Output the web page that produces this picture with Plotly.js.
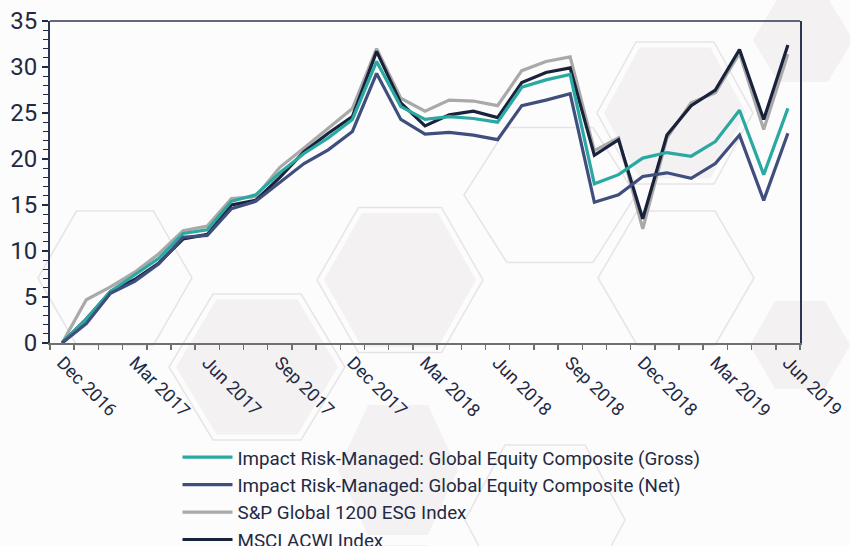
<!DOCTYPE html>
<html>
<head>
<meta charset="utf-8">
<script src="https://cdn.plot.ly/plotly-3.0.1.min.js"></script>
<style>
  html, body { margin: 0; padding: 0; background: #fdfcfc; }
  #chart { width: 850px; height: 546px; }
</style>
</head>
<body>
<div id="chart"></div>
<script>
// ---- Data (cumulative return, %) ----
const months = ["Dec 2016","Jan 2017","Feb 2017","Mar 2017","Apr 2017","May 2017","Jun 2017","Jul 2017","Aug 2017","Sep 2017","Oct 2017","Nov 2017",
                "Dec 2017","Jan 2018","Feb 2018","Mar 2018","Apr 2018","May 2018","Jun 2018","Jul 2018","Aug 2018","Sep 2018","Oct 2018","Nov 2018",
                "Dec 2018","Jan 2019","Feb 2019","Mar 2019","Apr 2019","May 2019","Jun 2019"];
const tickLabels = ["Dec 2016","Mar 2017","Jun 2017","Sep 2017","Dec 2017","Mar 2018","Jun 2018","Sep 2018","Dec 2018","Mar 2019","Jun 2019"];

const gross = [0, 2.6, 5.6, 7.4, 9.2, 11.9, 12.3, 15.4, 16.1, 18.5, 20.6, 22.3, 24.3, 30.6, 25.7, 24.3, 24.6, 24.4, 24.0, 27.8, 28.6, 29.2, 17.3, 18.3, 20.1, 20.7, 20.3, 21.9, 25.3, 18.3, 25.5];
const net   = [0, 2.1, 5.4, 6.7, 8.6, 11.5, 11.7, 14.6, 15.4, 17.4, 19.5, 21.0, 23.0, 29.3, 24.3, 22.7, 22.9, 22.6, 22.1, 25.8, 26.4, 27.1, 15.3, 16.1, 18.1, 18.5, 17.9, 19.5, 22.6, 15.5, 22.8];
const spEsg = [0, 4.7, 6.1, 7.7, 9.7, 12.2, 12.7, 15.7, 15.9, 19.1, 21.2, 23.3, 25.5, 32.0, 26.6, 25.2, 26.4, 26.3, 25.8, 29.6, 30.6, 31.1, 20.9, 22.3, 12.4, 22.3, 26.1, 27.2, 31.5, 23.2, 31.4];
const msci  = [0, 2.6, 5.6, 6.9, 8.7, 11.3, 11.8, 15.0, 15.5, 18.0, 20.8, 22.8, 24.6, 31.7, 26.1, 23.6, 24.8, 25.2, 24.5, 28.3, 29.4, 29.9, 20.4, 22.1, 13.5, 22.6, 25.8, 27.5, 31.9, 24.3, 32.4];

const names = ["Impact Risk-Managed: Global Equity Composite (Gross)",
               "Impact Risk-Managed: Global Equity Composite (Net)",
               "S&P Global 1200 ESG Index",
               "MSCI ACWI Index"];

// ---- Styling ----
const colors = ["#2aa9a2", "#3f4e7c", "#a9a9a9", "#18223a"];
const xIdx = months.map((_, i) => i);
const tickIdx = tickLabels.map(t => months.indexOf(t));

const series = [gross, net, spEsg, msci];
const traces = series.map((s, k) => ({
  x: xIdx, y: s, type: "scatter", mode: "lines", name: names[k],
  line: { color: colors[k], width: 3.2 },
  legendrank: k + 1
}));
// grey underneath, then MSCI, then composites
const ordered = [traces[2], traces[3], traces[0], traces[1]];

// decorative hexagons (pixel -> paper coords)
const L = 50, R = 800, T = 21, B = 343;
const px = x => (x - L) / (R - L);
const py = y => (B - y) / (B - T);
function hex(cx, cy, w, h) {
  const p = [[cx - w/2, cy], [cx - w/4, cy - h/2], [cx + w/4, cy - h/2], [cx + w/2, cy], [cx + w/4, cy + h/2], [cx - w/4, cy + h/2]];
  return "M" + p.map(q => px(q[0]).toFixed(4) + "," + py(q[1]).toFixed(4)).join("L") + "Z";
}
const hexes = [
  // cx, cy, w, h, outline, fill
  [115, 278, 154, 134, true, false],
  [257, 367, 176, 146, true, true],
  [400, 280, 166, 145, true, true],
  [550, 195, 172, 135, true, false],
  [675, 113, 156, 142, true, true],
  [676, 278, 156, 134, true, false],
  [803, 40, 100, 84, false, true],
  [800, 345, 100, 88, false, true],
  [398, 470, 120, 130, false, true],
  [545, 520, 160, 150, true, false],
  [400, 600, 110, 110, false, true]
];
const shapes = [];
hexes.forEach(h => {
  if (h[4]) shapes.push({ type: "path", xref: "paper", yref: "paper", layer: "below", path: hex(h[0], h[1], h[2], h[3]),
    line: { color: "#e6e4e4", width: 1.5 }, fillcolor: "rgba(0,0,0,0)" });
  if (h[5]) {
    const inset = h[4] ? 14 : 0;
    shapes.push({ type: "path", xref: "paper", yref: "paper", layer: "below", path: hex(h[0], h[1], h[2] - inset, h[3] - inset * 0.8),
      line: { width: 0 }, fillcolor: "#f3f1f1" });
  }
});
// top frame line
shapes.push({ type: "line", xref: "paper", yref: "paper", x0: 0, x1: 1, y0: 1, y1: 1, line: { color: "#2c3650", width: 1.5 } });

const layout = {
  width: 850, height: 546,
  margin: { l: 50, r: 50, t: 21, b: 203, autoexpand: false },
  paper_bgcolor: "#fdfcfc",
  plot_bgcolor: "rgba(0,0,0,0)",
  font: { family: "Roboto, sans-serif", color: "#1f2a44" },
  showlegend: true,
  legend: {
    xref: "paper", x: 0.17, xanchor: "left",
    yref: "container", y: 0.197, yanchor: "top",
    orientation: "v", traceorder: "normal",
    font: { size: 18.8, color: "#1f2a44", family: "Roboto, sans-serif" },
    bgcolor: "rgba(0,0,0,0)", tracegroupgap: 0, itemwidth: 50
  },
  xaxis: {
    range: [-0.5, 30.5], automargin: false,
    tickmode: "array", tickvals: tickIdx, ticktext: tickLabels,
    tickangle: 45, ticks: "", tickfont: { size: 18, color: "#1f2a44" },
    showgrid: false, zeroline: false,
    showline: true, linecolor: "#6f7070", linewidth: 2,
    minor: { tickmode: "linear", tick0: -0.5, dtick: 1, ticks: "outside", ticklen: 5, tickcolor: "#6f7070", tickwidth: 1.5, showgrid: false }
  },
  yaxis: {
    range: [0, 35], dtick: 5, tick0: 0, automargin: false,
    ticks: "outside", ticklen: 6, tickcolor: "#1f2a44", tickwidth: 1.5,
    tickfont: { size: 24, color: "#1f2a44" },
    showgrid: false, zeroline: false,
    showline: true, linecolor: "#2c3650", linewidth: 2, mirror: true,
    minor: { dtick: 1, ticks: "outside", ticklen: 5, tickcolor: "#1f2a44", tickwidth: 1.2, showgrid: false }
  },
  shapes: shapes
};

Plotly.newPlot("chart", ordered, layout, { displayModeBar: false, staticPlot: true });
</script>
</body>
</html>
